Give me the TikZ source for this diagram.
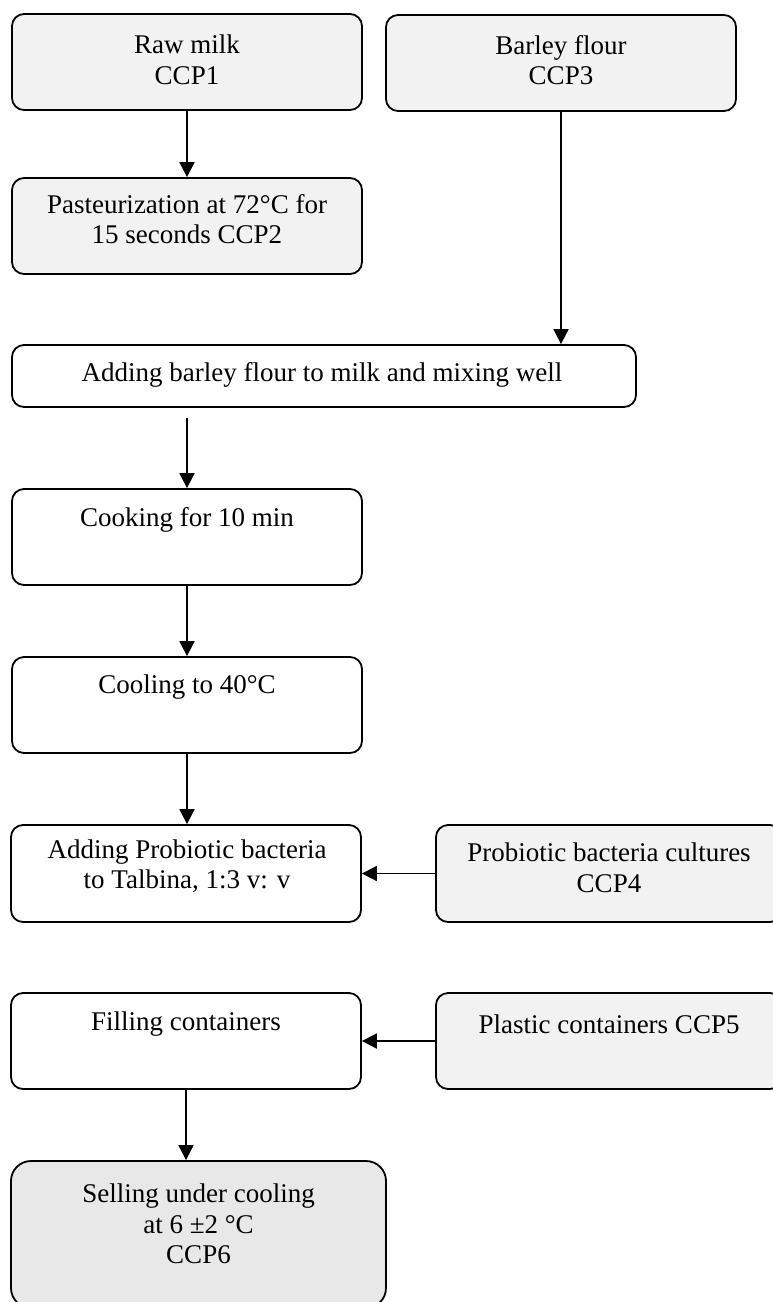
\documentclass[tikz,border=0pt]{standalone}
\usepackage{fontspec}
\setmainfont{Liberation Serif}
\usetikzlibrary{arrows.meta}

\tikzset{
	box/.style={draw, line width=1.8pt, rounded corners=12pt, minimum width=350pt, minimum height=96pt, inner sep=0pt},
	greybox/.style={box, fill=gray!10},
	txt/.style={align=center, inner sep=0pt, font=\fontsize{27}{30.5}\selectfont},
	flow/.style={line width=1.8pt, -{Triangle[length=15pt,width=15pt]}}
}

\begin{document}
\begin{tikzpicture}[x=1pt,y=-1pt]
	\clip (0,0) rectangle (773,1302);
	%\draw[help lines,step=50] (0,0) grid (773,1302);

	% milk and barley
	\node[greybox] (raw) at (187,62) {};
	\node[txt] (rawtxt) at (187,60) {Raw milk\\CCP1};
	\node[greybox] (barley) at (561,63) {};
	\node[txt] (barleytxt) at (561,60) {Barley flour\\CCP3};
	\node[greybox] (past) at (187,226) {};
	\node[txt] (pasttxt) at (187,219) {Pasteurization at 72°C for\\15 seconds CCP2};

	\node[box, minimum width=624pt, minimum height=62pt] (add) at (324,376) {};
	\node[txt] (addtxt) at (322,375) {Adding barley flour to milk and mixing well};

	\node[box] (cook) at (187,537) {};
	\node[txt] (cooktxt) at (187,520) {Cooking for 10 min};
	\node[box] (cool) at (187,705) {};
	\node[txt] (cooltxt) at (187,687) {Cooling to 40°C};

	% probiotics
	\node[box, minimum height=97pt] (probio) at (186,873.5) {};
	\node[txt] (probiotxt) at (187,866) {Adding Probiotic bacteria\\to Talbina, 1:3 v: v};
	\node[greybox, minimum width=346pt, minimum height=97pt] (cult) at (609,873.5) {};
	\node[txt] (culttxt) at (609,868) {Probiotic bacteria cultures\\CCP4};

	% packing
	\node[box] (fill) at (186,1041) {};
	\node[txt] (filltxt) at (186,1024) {Filling containers};
	\node[greybox, minimum width=346pt] (plast) at (609,1041) {};
	\node[txt] (plasttxt) at (609,1024) {Plastic containers CCP5};

	\node[box, fill=gray!18, minimum width=375pt, minimum height=147pt, rounded corners=20pt] (sell) at (198.5,1234.5) {};
	\node[txt] (selltxt) at (198.5,1224) {Selling under cooling\\at 6 ±2 °C\\CCP6};

	\draw[flow] (raw.south) -- (past.north);
	\draw[flow] (barley.south) -- (barley.south |- add.north);
	\draw[flow] (add.south -| cook.north) ++(0,10) -- (cook.north);
	\draw[flow] (cook.south) -- (cool.north);
	\draw[flow] (cool.south) -- (cool.south |- probio.north);
	\draw[flow] (cult.west) -- (probio.east);
	\draw[flow] (plast.west) -- (fill.east);
	\draw[flow] (fill.south) -- (fill.south |- sell.north);
\end{tikzpicture}
\end{document}
